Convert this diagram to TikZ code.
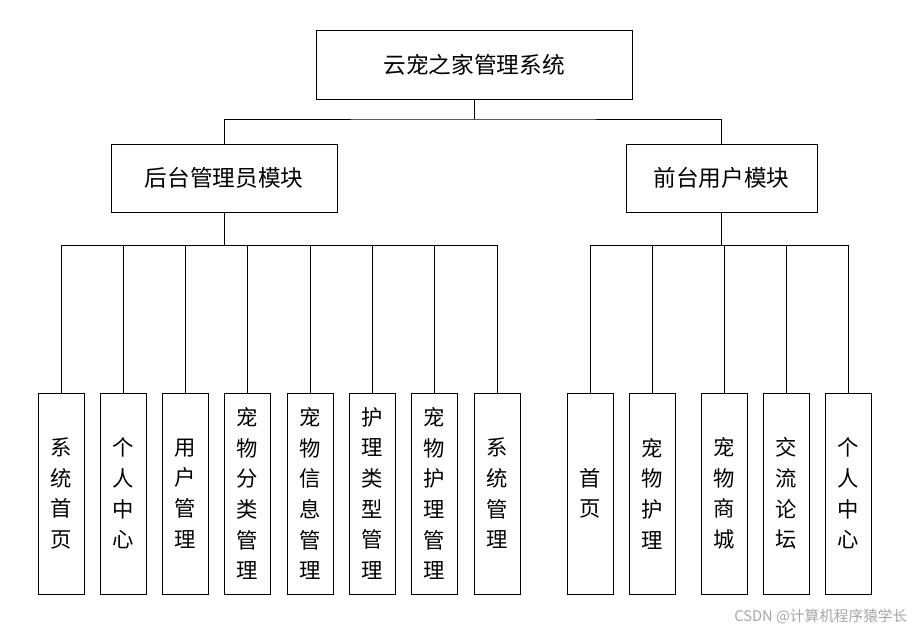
\documentclass[tikz,border=0pt]{standalone}
\usepackage{fontspec}
\newfontfamily\cjk{Noto Sans CJK SC}
\begin{document}
\begin{tikzpicture}[x=0.75pt,y=-0.75pt,
  box/.style={draw,line width=0.7pt,inner sep=0pt,font=\cjk\fontsize{17}{20}\selectfont},
  leaf/.style={draw,line width=0.7pt,minimum width=46*0.75pt,minimum height=201*0.75pt,inner sep=0pt,align=center,font=\cjk\fontsize{16}{23}\selectfont},
  con/.style={line width=0.7pt}]
\useasboundingbox (0,0) rectangle (915,632);
\node[box,minimum width=316*0.75pt,minimum height=69*0.75pt] (top) at (474,64.5) {云宠之家管理系统};
\node[box,minimum width=226*0.75pt,minimum height=68*0.75pt] (L) at (224,178) {后台管理员模块};
\node[box,minimum width=191*0.75pt,minimum height=68*0.75pt] (R) at (721.5,178) {前台用户模块};
\coordinate (tb) at (474,119);
\draw[con] (top.south) -- (tb);
\draw[con] (L.north) |- (tb) -| (R.north);
\foreach \n/\x/\t in {a1/61/系\\统\\首\\页, a2/123/个\\人\\中\\心, a3/185/用\\户\\管\\理, a4/247/宠\\物\\分\\类\\管\\理, a5/310/宠\\物\\信\\息\\管\\理, a6/372/护\\理\\类\\型\\管\\理, a7/434/宠\\物\\护\\理\\管\\理, a8/497/系\\统\\管\\理}{
  \node[leaf] (\n) at (\x,493.5) {\t};
  \draw[con] (L.south) -- (224,245) -| (\n.north);
}
\foreach \n/\x/\t in {b1/590/首\\页, b2/652/宠\\物\\护\\理, b3/724/宠\\物\\商\\城, b4/786/交\\流\\论\\坛, b5/848/个\\人\\中\\心}{
  \node[leaf] (\n) at (\x,493.5) {\t};
  \draw[con] (R.south) -- (721.5,245) -| (\n.north);
}
\node[text=gray!70,font=\cjk\fontsize{11}{13}\selectfont,anchor=east] (wm) at (912,617) {CSDN @计算机程序猿学长};
\end{tikzpicture}
\end{document}
